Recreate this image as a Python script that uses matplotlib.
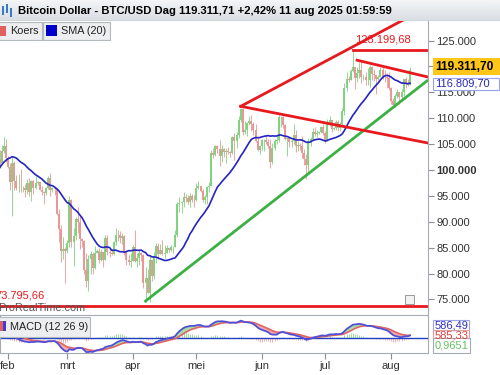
import numpy as np
import pandas as pd
import matplotlib
matplotlib.use("Agg")
import matplotlib.pyplot as plt
import matplotlib.dates as mdates
from matplotlib.patches import Rectangle

plt.rcParams['font.family'] = ['Liberation Sans', 'DejaVu Sans']

# closes before the visible range (1 dec 2024 - 27 jan 2025), only used to warm up SMA / MACD (x1000 USD)
warmup_close = [97.2, 95.9, 96.0, 98.8, 97.0, 99.9, 99.9, 101.2, 97.4, 96.7, 101.2, 100.0, 101.5, 101.4, 104.3, 106.1,
                106.1, 100.2, 97.5, 97.8, 97.3, 95.2, 94.9, 98.7, 99.4, 95.8, 94.2, 95.2, 93.7, 92.8, 93.4,
                94.4, 96.9, 98.1, 98.2, 98.3, 102.1, 96.9, 95.0, 92.5, 94.7, 94.5, 94.5, 94.5, 96.5, 100.5, 99.9,
                104.1, 104.4, 101.1, 102.0, 106.1, 103.6, 104.0, 104.8, 104.7, 102.6, 102.1]

# daily candles from 28 jan 2025 to 10 aug 2025 (x1000 USD), open = previous close
start_date = '2025-01-28'
close = [101.3, 103.7, 104.7, 102.4,
         100.6, 97.7, 101.4, 97.9, 96.6, 96.6, 96.5, 96.5, 96.1, 97.4, 95.7, 97.9, 96.6, 97.5, 97.6, 96.2, 95.8, 95.5, 96.6, 98.4, 96.1, 96.6, 96.3, 91.5, 88.7, 84.3, 84.7, 84.4,
         86.0, 94.3, 86.1, 87.2, 90.6, 89.9, 86.7, 86.2, 80.7, 78.5, 82.9, 83.7, 81.1, 84.0, 84.3, 82.6, 84.1, 82.7, 86.8, 84.2, 84.0, 83.8, 86.1, 87.5, 87.4, 86.9, 87.2, 84.4, 82.6, 82.3, 82.5,
         85.2, 82.5, 83.1, 83.9, 83.5, 78.2, 79.2, 76.3, 82.6, 79.6, 83.4, 85.3, 83.7, 84.6, 83.7, 84.0, 84.9, 84.5, 85.1, 85.2, 87.5, 93.4, 93.7, 93.9, 94.7, 94.6, 93.8, 95.0, 94.3, 94.2,
         96.5, 96.9, 95.9, 94.3, 94.7, 96.8, 97.0, 103.2, 102.9, 104.6, 104.1, 102.8, 104.1, 103.5, 103.7, 103.5, 103.2, 106.4, 105.6, 106.8, 109.7, 111.7, 107.3, 107.8, 109.0, 109.4, 108.9, 107.8, 105.6, 103.9, 104.6,
         105.7, 105.8, 105.4, 104.7, 101.5, 104.3, 105.6, 105.8, 110.3, 110.3, 108.7, 105.9, 106.1, 105.4, 105.6, 106.8, 104.6, 104.9, 104.6, 103.3, 102.2, 100.9, 105.6, 106.0, 107.3, 106.9, 107.1, 107.3, 108.4, 107.1,
         105.7, 108.8, 109.6, 108.0, 108.2, 109.2, 108.2, 108.9, 111.3, 115.9, 117.5, 117.4, 119.1, 119.8, 117.7, 118.7, 119.3, 117.9, 117.9, 117.3, 117.4, 119.9, 118.6, 118.3, 117.6, 117.9, 119.4, 118.0, 117.9, 117.8, 115.8,
         113.3, 112.5, 114.2, 115.0, 114.1, 115.0, 117.5, 116.7, 116.5, 119.3]
high = [103.8, 104.8, 106.4, 106.0,
        102.8, 101.4, 102.5, 101.7, 99.0, 99.2, 100.1, 96.9, 97.3, 98.3, 98.5, 98.1, 98.0, 98.8, 97.9, 97.7, 97.0, 96.0, 96.8, 98.8, 99.5, 96.8, 96.7, 96.5, 92.5, 89.3, 87.0, 85.1,
        86.5, 95.0, 94.4, 88.9, 91.0, 92.8, 91.2, 86.9, 86.5, 83.9, 83.6, 84.3, 84.2, 85.3, 84.7, 85.0, 84.7, 84.1, 87.4, 87.4, 85.0, 84.5, 86.2, 88.8, 88.5, 88.3, 87.8, 87.5, 84.6, 83.5, 83.9,
        85.5, 88.5, 83.9, 84.7, 84.2, 83.8, 81.2, 80.8, 83.5, 82.7, 84.2, 85.9, 86.0, 85.8, 86.5, 85.5, 85.5, 85.0, 85.6, 85.3, 88.4, 93.8, 94.7, 94.0, 95.7, 95.3, 95.2, 95.6, 95.4, 95.1,
        97.4, 97.9, 96.9, 96.3, 95.2, 96.9, 97.7, 103.8, 104.3, 104.9, 104.9, 105.7, 104.9, 104.3, 104.2, 104.5, 103.7, 106.6, 107.1, 107.3, 110.5, 112.0, 111.9, 109.5, 109.3, 110.4, 110.7, 109.3, 108.9, 106.3, 104.9,
        105.9, 105.9, 106.8, 106.0, 105.9, 105.3, 105.9, 106.5, 110.6, 110.4, 110.4, 108.8, 106.2, 106.2, 106.0, 108.9, 107.8, 105.6, 105.3, 106.5, 104.0, 103.0, 106.1, 106.3, 108.1, 108.3, 107.8, 107.6, 108.5, 108.8,
        107.5, 109.8, 110.5, 109.7, 108.4, 109.7, 109.7, 109.2, 111.9, 116.8, 118.9, 118.2, 119.5, 123.2, 119.9, 119.8, 120.9, 120.8, 118.6, 118.9, 119.7, 120.2, 120.1, 119.5, 118.4, 118.3, 119.8, 119.8, 119.3, 118.8, 118.9,
        116.0, 114.0, 114.6, 115.7, 115.1, 115.7, 117.6, 117.9, 117.6, 119.8]
low = [100.3, 101.3, 103.3, 101.6,
       100.3, 96.2, 91.2, 96.2, 96.2, 95.7, 95.7, 95.7, 94.7, 95.3, 94.9, 94.1, 95.3, 96.3, 97.2, 96.1, 95.2, 93.4, 95.2, 96.4, 94.9, 95.8, 95.2, 91.4, 86.1, 82.3, 82.8, 78.2,
       83.9, 85.1, 85.1, 81.5, 86.4, 87.8, 84.7, 85.2, 80.0, 77.5, 76.6, 80.0, 79.9, 80.8, 83.9, 82.0, 82.5, 81.2, 82.6, 83.6, 83.2, 83.6, 83.6, 85.5, 86.3, 85.9, 85.8, 83.6, 81.7, 81.6, 81.3,
       82.4, 82.3, 81.2, 81.7, 82.4, 77.2, 74.5, 76.2, 74.6, 78.5, 78.9, 82.1, 82.8, 83.7, 83.6, 83.1, 83.9, 84.2, 84.3, 83.9, 85.1, 87.1, 91.9, 91.7, 92.8, 93.9, 93.4, 92.9, 93.9, 92.9,
       94.1, 96.3, 95.7, 93.9, 93.5, 93.4, 95.8, 96.9, 102.3, 102.8, 103.3, 100.8, 101.5, 102.6, 101.4, 103.1, 102.6, 103.1, 102.0, 104.2, 106.1, 109.3, 106.8, 106.9, 106.6, 108.7, 107.6, 106.8, 105.4, 103.6, 103.1,
       103.9, 103.7, 105.0, 104.2, 100.4, 101.1, 103.9, 105.1, 105.4, 108.4, 108.1, 105.7, 102.7, 104.5, 104.5, 105.0, 103.4, 103.6, 103.9, 102.4, 101.0, 98.2, 99.6, 104.7, 105.6, 106.6, 106.4, 106.9, 107.1, 106.8,
       105.3, 105.6, 108.5, 107.3, 107.8, 107.8, 107.5, 107.5, 108.4, 110.6, 115.3, 116.9, 117.3, 118.9, 115.7, 117.0, 117.8, 116.8, 117.3, 116.5, 116.5, 116.1, 117.3, 117.2, 114.7, 117.3, 117.9, 117.5, 116.9, 115.8, 115.5,
       112.7, 112.0, 112.2, 114.0, 112.7, 113.4, 114.3, 115.9, 116.3, 116.5]

# drawn trend lines (date, price)
green_dates, green_prices = ['2025-04-07', '2025-08-18'], [74700, 117200]
wedge_up_dates, wedge_up_prices = ['2025-05-22', '2025-08-18'], [112300, 131400]
wedge_dn_dates, wedge_dn_prices = ['2025-05-22', '2025-08-18'], [112300, 105250]
top_dates, top_prices = ['2025-07-16', '2025-08-18'], [121200, 118000]
ath_date, ath_price = '2025-07-14', 123199.68
low_price = 73795.66

month_ticks = ['2025-02-01', '2025-03-01', '2025-04-01', '2025-05-01', '2025-06-01', '2025-07-01', '2025-08-01']
month_labels = ['feb', 'mrt', 'apr', 'mei', 'jun', 'jul', 'aug']
price_ticks = [75000, 80000, 85000, 90000, 95000, 100000, 105000, 110000, 115000, 120000, 125000]

title = 'Bitcoin Dollar - BTC/USD Dag 119.311,71 +2,42% 11 aug 2025 01:59:59'
last_label, sma_label = '119.311,70', '116.809,70'
macd_labels = ['586,49', '585,33', '0,9651']

# ---- data prep
c = np.array(close) * 1000
h = np.array(high) * 1000
l = np.array(low) * 1000
o = np.concatenate([[warmup_close[-1] * 1000], c[:-1]])
dates = pd.date_range(start_date, periods=len(c))
x = mdates.date2num(dates)

all_close = pd.Series(np.concatenate([np.array(warmup_close) * 1000, c]))
n0 = len(warmup_close)
sma = all_close.rolling(20).mean().values[n0:]
ema12 = all_close.ewm(span=12, adjust=False).mean()
ema26 = all_close.ewm(span=26, adjust=False).mean()
macd = (ema12 - ema26).values
signal = pd.Series(macd).ewm(span=9, adjust=False).mean().values
macd, signal = macd[n0:], signal[n0:]
hist = macd - signal

d = lambda s: mdates.date2num(pd.Timestamp(s))
x0 = d('2025-01-28') + 0.22
x1 = d('2025-08-18') + 0.5

def fx(px):
    return px / 500
def fy(py):
    return 1 - py / 375

fig = plt.figure(figsize=(5, 3.75), dpi=100)
ax = fig.add_axes([0, fy(314), fx(428), (314 - 21) / 375])
axm = fig.add_axes([0, fy(353), fx(428), (353 - 315) / 375])

# ---- candles
up = c >= o
green, red = '#7fd27f', '#ea9696'
cols = np.where(up, green, red)
ax.vlines(x, l, h, colors=cols, lw=0.6)
ax.vlines(x, np.minimum(o, c), np.maximum(o, c), colors=cols, lw=1.4)
ax.plot(x, sma, color='#2424c0', lw=1.2)

# trend lines
red_line = '#e8191e'
ax.plot([d(s) for s in green_dates], green_prices, color='#3cb043', lw=2)
ax.plot([d(s) for s in wedge_up_dates], wedge_up_prices, color=red_line, lw=2)
ax.plot([d(s) for s in wedge_dn_dates], wedge_dn_prices, color=red_line, lw=2)
ax.plot([d(s) for s in top_dates], top_prices, color=red_line, lw=2)
ax.plot([d(ath_date), x1], [ath_price, ath_price], color=red_line, lw=2)
ax.axhline(low_price, color=red_line, lw=2)
ax.text(d(ath_date) + 1, ath_price + 1100, '123.199,68', color=red_line, fontsize=8, va='bottom')
ax.text(x0 - 2, low_price + 1100, '73.795,66', color=red_line, fontsize=8, va='bottom')

ax.set_xlim(x0, x1)
ax.set_ylim(72200, 128770)
ax.yaxis.tick_right()
ax.set_yticks(price_ticks)
ax.set_yticklabels([f'{p:,}'.replace(',', '.') for p in price_ticks])
for t, p in zip(ax.get_yticklabels(), price_ticks):
    if p == 100000:
        t.set_fontweight('bold')
ax.tick_params(axis='y', length=4, color='#8a9096', labelsize=8, labelcolor='#333333', pad=2)
ax.set_xticks([])
for s in ['top', 'left', 'bottom']:
    ax.spines[s].set_visible(False)
ax.spines['right'].set_color('#a4abb2')

ax.text(-0.005, 0.005, 'ProRealTime.com', transform=ax.transAxes, fontsize=7.8, color='#555555', va='bottom')
ax.add_patch(Rectangle((fx(405) / fx(428), 0.035), 0.022, 0.03, transform=ax.transAxes,
                       facecolor='#f2f2f2', edgecolor='#999999', lw=0.7))

# ---- MACD panel
axm.fill_between(x, macd, signal, where=macd >= signal, interpolate=True, color='#a6dea6', lw=0)
axm.fill_between(x, macd, signal, where=macd < signal, interpolate=True, color='#f2aaaa', lw=0)
axm.vlines(x, 0, hist, colors=np.where(hist >= 0, '#9edc9e', '#f2b0b0'), lw=0.7)
axm.axhline(0, color='#2040c0', lw=1)
axm.plot(x, signal, color='#e06464', lw=1.2)
axm.plot(x, macd, color='#5050d8', lw=1.3)
lo, hi = min(macd.min(), signal.min()), max(macd.max(), signal.max())
span = hi - lo
axm.set_ylim(lo - span * 0.03, hi + span * 0.18)
axm.set_xlim(x0, x1)
axm.set_yticks([])
axm.set_xticks([d(s) for s in month_ticks])
axm.set_xticklabels(month_labels)
axm.tick_params(axis='x', length=4, color='#8a9096', labelsize=8, labelcolor='#333333', pad=2)
for s in axm.spines.values():
    s.set_color('#a4abb2')
    s.set_linewidth(0.8)

# ---- title bar
axt = fig.add_axes([0, fy(21), 1, 21 / 375])
grad = np.linspace(0, 1, 20).reshape(-1, 1)
axt.imshow(grad, aspect='auto', cmap=matplotlib.colors.LinearSegmentedColormap.from_list('g', ['#f3f5f7', '#d9dee3']),
           extent=[0, 1, 0, 1])
axt.axhline(0, color='#a9b0b7', lw=1)
axt.axis('off')
fig.text(fx(18), fy(11), title, fontsize=8.1, fontweight='bold', va='center')
for i, (xa, ya, yb) in enumerate([(3, 6, 15), (7, 4, 13), (11, 8, 17)]):
    fig.patches.append(Rectangle((fx(xa - 1), fy(yb)), fx(2), (yb - ya) / 375, transform=fig.transFigure,
                                 facecolor='#3a78c8', edgecolor='none'))

# ---- legend boxes
def box(x_, y_, w, h_, fc, ec, lw=0.8):
    fig.patches.append(Rectangle((fx(x_), fy(y_ + h_)), fx(w), h_ / 375, transform=fig.transFigure,
                                 facecolor=fc, edgecolor=ec, lw=lw))

box(-1, 22, 43, 18, '#eceef0', '#b4b9be')
box(0, 26, 6, 10, '#e26060', 'none')
fig.text(fx(10), fy(31), 'Koers', fontsize=7.8, va='center', color='#222222')
box(43, 22, 67, 18, '#eceef0', '#b4b9be')
box(46, 25, 11, 11, '#0000c8', 'none')
fig.text(fx(61), fy(31), 'SMA (20)', fontsize=7.8, va='center', color='#222222')

box(-1, 317, 91, 20, '#eceef0', '#b4b9be')
box(0, 321, 3, 10, '#e26060', 'none')
box(3, 321, 3, 10, '#4040d0', 'none')
fig.text(fx(10), fy(327), 'MACD (12 26 9)', fontsize=7.8, va='center', color='#222222')

# ---- value tags
box(433, 58, 67, 17, '#ffc61a', 'none')
fig.text(fx(435), fy(66.5), last_label, fontsize=8.6, fontweight='bold', va='center')
box(433, 78, 66, 12, '#ffffff', '#9aa2e6')
fig.text(fx(435), fy(84), sma_label, fontsize=8, color='#2828b0', va='center')

box(433, 320, 36, 11, '#ffffff', '#9aa2e6')
fig.text(fx(435), fy(326), macd_labels[0], fontsize=8, color='#3030c0', va='center')
box(433, 330, 36, 9, '#ffffff', '#e0a0a0')
fig.text(fx(435), fy(335), macd_labels[1], fontsize=8, color='#e04040', va='center')
box(433, 338, 37, 15, '#ffffff', '#a4abb2')
fig.text(fx(435), fy(345.5), macd_labels[2], fontsize=8, color='#66c266', va='center')

fig.savefig('out.png', dpi=100, facecolor='white')
